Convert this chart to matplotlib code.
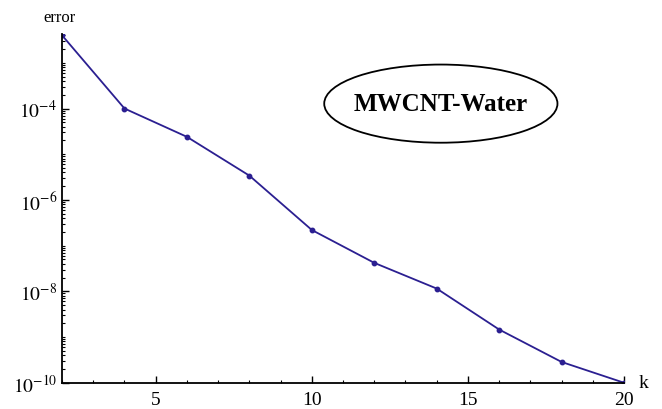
import numpy as np
import matplotlib
matplotlib.use("Agg")
import matplotlib.pyplot as plt
from matplotlib.patches import Ellipse
from matplotlib.ticker import LogLocator, FixedLocator, MultipleLocator, FuncFormatter

plt.rcParams['font.family'] = ['Liberation Serif', 'DejaVu Serif']
plt.rcParams['mathtext.fontset'] = 'stix'

# iteration number vs error
k = [2, 4, 6, 8, 10, 12, 14, 16, 18, 20]
error = [4.0e-3, 1.0e-4, 2.4e-5, 3.4e-6, 2.2e-7, 4.2e-8, 1.15e-8, 1.46e-9, 2.85e-10, 1.0e-10]
label = "MWCNT-Water"

fig = plt.figure(figsize=(6.62, 4.10), dpi=100)
ax = fig.add_axes([0.0937, 0.064, 0.849, 0.851])

col = (0.17, 0.12, 0.57)
ax.plot(k, error, '-', color=col, lw=1.3, marker='o', ms=3.2)

ax.set_yscale('log')
ax.set_xlim(2, 20)
ax.set_ylim(1e-10, 4.3e-3)

for s in ['top', 'right']:
    ax.spines[s].set_visible(False)
for s in ['left', 'bottom']:
    ax.spines[s].set_linewidth(1.3)

ax.xaxis.set_major_locator(FixedLocator([5, 10, 15, 20]))
ax.xaxis.set_minor_locator(MultipleLocator(1))
ax.yaxis.set_major_locator(FixedLocator([1e-10, 1e-8, 1e-6, 1e-4]))
ax.yaxis.set_minor_locator(LogLocator(base=10, subs=np.arange(1, 10), numticks=30))
ax.yaxis.set_major_formatter(FuncFormatter(lambda v, p: r'$10^{%d}$' % round(np.log10(v))))
ax.yaxis.set_minor_formatter(FuncFormatter(lambda v, p: ''))

ax.tick_params(which='both', direction='in', labelsize=14)
ax.tick_params(which='major', length=5, width=1)
ax.tick_params(which='minor', length=2.5, width=0.8)
ax.tick_params(axis='x', pad=6)

ax.text(-0.005, 1.025, 'error', transform=ax.transAxes, ha='center', va='bottom', fontsize=12)
ax.text(1.025, 0.0, 'k', transform=ax.transAxes, ha='left', va='center', fontsize=14)

ell = Ellipse((0.674, 0.80), 0.415, 0.224, transform=ax.transAxes,
              facecolor='white', edgecolor='black', lw=1.3)
ax.add_patch(ell)
ax.text(0.674, 0.80, label, transform=ax.transAxes, ha='center', va='center',
        fontsize=18, fontweight='bold')

fig.savefig('out.png', dpi=100)
